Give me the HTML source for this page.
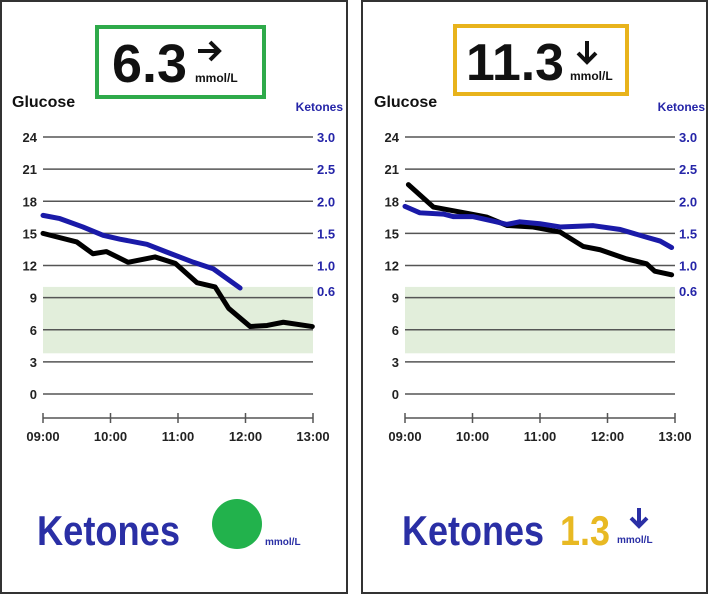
<!DOCTYPE html>
<html><head><meta charset="utf-8">
<style>
html,body{margin:0;padding:0;background:#fff;}
svg{display:block;font-family:"Liberation Sans",Arial,sans-serif;}
</style></head>
<body>
<svg id="chart" width="709" height="595" viewBox="0 0 709 595">
<rect x="1" y="1" width="346" height="592" fill="none" stroke="#333" stroke-width="2"/>
<rect x="362" y="1" width="345" height="592" fill="none" stroke="#333" stroke-width="2"/>

<g>
<rect x="97" y="27" width="167" height="70" fill="none" stroke="#2eaa4a" stroke-width="4"/>
<text x="112" y="82" font-size="54" font-weight="bold" fill="#111" textLength="75" lengthAdjust="spacingAndGlyphs">6.3</text>
<path d="M198 51 H218 M210 42 L219 51 L210 60" stroke="#111" stroke-width="4" fill="none"/>
<text x="195" y="82" font-size="12" font-weight="bold" fill="#111">mmol/L</text>
</g>
<g>
<rect x="455" y="26" width="172" height="68" fill="none" stroke="#e8b31c" stroke-width="4"/>
<text x="466" y="80" font-size="52" font-weight="bold" fill="#111" textLength="98" lengthAdjust="spacingAndGlyphs">11.3</text>
<path d="M587 41 V61 M578 53 L587 62 L596 53" stroke="#111" stroke-width="4" fill="none"/>
<text x="570" y="80" font-size="12" font-weight="bold" fill="#111">mmol/L</text>
</g>

<text x="37" y="545" font-size="42" font-weight="bold" fill="#2a2fa5" textLength="143" lengthAdjust="spacingAndGlyphs">Ketones</text>
<circle cx="237" cy="524" r="25" fill="#22b24c"/>
<text x="265" y="545" font-size="10" font-weight="bold" fill="#2a2fa5">mmol/L</text>
<text x="402" y="545" font-size="42" font-weight="bold" fill="#2a2fa5" textLength="142" lengthAdjust="spacingAndGlyphs">Ketones</text>
<text x="560" y="545" font-size="42" font-weight="bold" fill="#e8b923" textLength="50" lengthAdjust="spacingAndGlyphs">1.3</text>
<path d="M639 508 V525 M631 518 L639 526 L647 518" stroke="#2a2fa5" stroke-width="4" fill="none"/>
<text x="617" y="543" font-size="10" font-weight="bold" fill="#2a2fa5">mmol/L</text>
</svg>
<script>
const glucoseTicks=[0,3,6,9,12,15,18,21,24];
const ketoneTicks=[0.6,1.0,1.5,2.0,2.5,3.0];
const timeLabels=["09:00","10:00","11:00","12:00","13:00"];
const targetRange=[3.8,10];
const leftGlucoseT=[0,0.5,0.74,0.94,1.26,1.66,1.96,2.28,2.55,2.75,3.07,3.32,3.56,3.99];
const leftGlucoseV=[15.0,14.2,13.1,13.3,12.3,12.8,12.2,10.4,10.0,8.0,6.3,6.4,6.7,6.3];
const leftKetoneT=[0,0.25,0.59,0.89,1.14,1.54,1.83,2.23,2.52,2.92];
const leftKetoneV=[1.78,1.73,1.60,1.47,1.41,1.33,1.21,1.05,0.95,0.65];
const rightGlucoseT=[0.05,0.42,0.96,1.21,1.51,1.9,2.3,2.64,2.89,3.28,3.58,3.7,3.95];
const rightGlucoseV=[19.55,17.46,16.83,16.52,15.74,15.59,15.12,13.78,13.47,12.62,12.16,11.47,11.13];
const rightKetoneT=[0,0.22,0.57,0.72,1.01,1.31,1.51,1.7,2.0,2.3,2.79,3.19,3.58,3.78,3.95];
const rightKetoneV=[1.92,1.82,1.80,1.76,1.76,1.69,1.64,1.68,1.65,1.60,1.62,1.56,1.44,1.38,1.28];

const NS="http://www.w3.org/2000/svg";
const svg=document.getElementById('chart');
function mk(tag,attrs,parent){const e=document.createElementNS(NS,tag);for(const k in attrs)e.setAttribute(k,attrs[k]);(parent||svg).appendChild(e);return e;}
function yG(v){return 394-v*(394-137)/24;}
function yK(k){return yG(6*k+6);}

function panel(name,x0,x1,gT,gV,kT,kV){
  const xS=t=>x0+t*(x1-x0)/4;
  const g=mk('g',{});
  
  
  const band=mk('rect',{x:x0,y:yG(targetRange[1]),width:x1-x0,height:yG(targetRange[0])-yG(targetRange[1]),fill:'#e2eedb'},g);
  
  
  glucoseTicks.forEach(v=>{
    const l=mk('line',{x1:x0,x2:x1,y1:yG(v),y2:yG(v),stroke:'#555','stroke-width':1.5},g);
    
    
    const t=mk('text',{x:x0-6,y:yG(v)+5,'text-anchor':'end','font-size':13,'font-weight':'bold',fill:'#222'},g);
    t.textContent=v;
    
    
  });
  ketoneTicks.forEach(k=>{
    const t=mk('text',{x:x1+4,y:yK(k)+5,'font-size':13,'font-weight':'bold',fill:'#2525a8'},g);
    t.textContent=k.toFixed(1);
    
    
  });
  const gt=mk('text',{x:x0-31,y:107,'font-size':16,'font-weight':'bold',fill:'#111'},g);
  gt.textContent='Glucose';
  
  
  const kt=mk('text',{x:x1+30,y:111,'text-anchor':'end','font-size':12,'font-weight':'bold',fill:'#2525a8'},g);
  kt.textContent='Ketones';
  
  
  const ax=mk('line',{x1:x0,x2:x1,y1:418,y2:418,stroke:'#555','stroke-width':1.5},g);
  
  
  timeLabels.forEach((s,i)=>{
    const x=xS(i);
    const tk=mk('line',{x1:x,x2:x,y1:413,y2:423,stroke:'#555','stroke-width':1.5},g);
    
    
    const t=mk('text',{x:x,y:441,'text-anchor':'middle','font-size':13,'font-weight':'bold',fill:'#222'},g);
    t.textContent=s;
    
    
  });
  const gp=mk('polyline',{points:gT.map((t,i)=>xS(t)+','+yG(gV[i])).join(' '),fill:'none',stroke:'#000','stroke-width':5,'stroke-linejoin':'round','stroke-linecap':'round'},g);
  
  
  const kp=mk('polyline',{points:kT.map((t,i)=>xS(t)+','+yK(kV[i])).join(' '),fill:'none',stroke:'#1a1aa8','stroke-width':5,'stroke-linejoin':'round','stroke-linecap':'round'},g);
  
  
}
panel('left',43,313,leftGlucoseT,leftGlucoseV,leftKetoneT,leftKetoneV);
panel('right',405,675,rightGlucoseT,rightGlucoseV,rightKetoneT,rightKetoneV);
</script>
</body></html>
